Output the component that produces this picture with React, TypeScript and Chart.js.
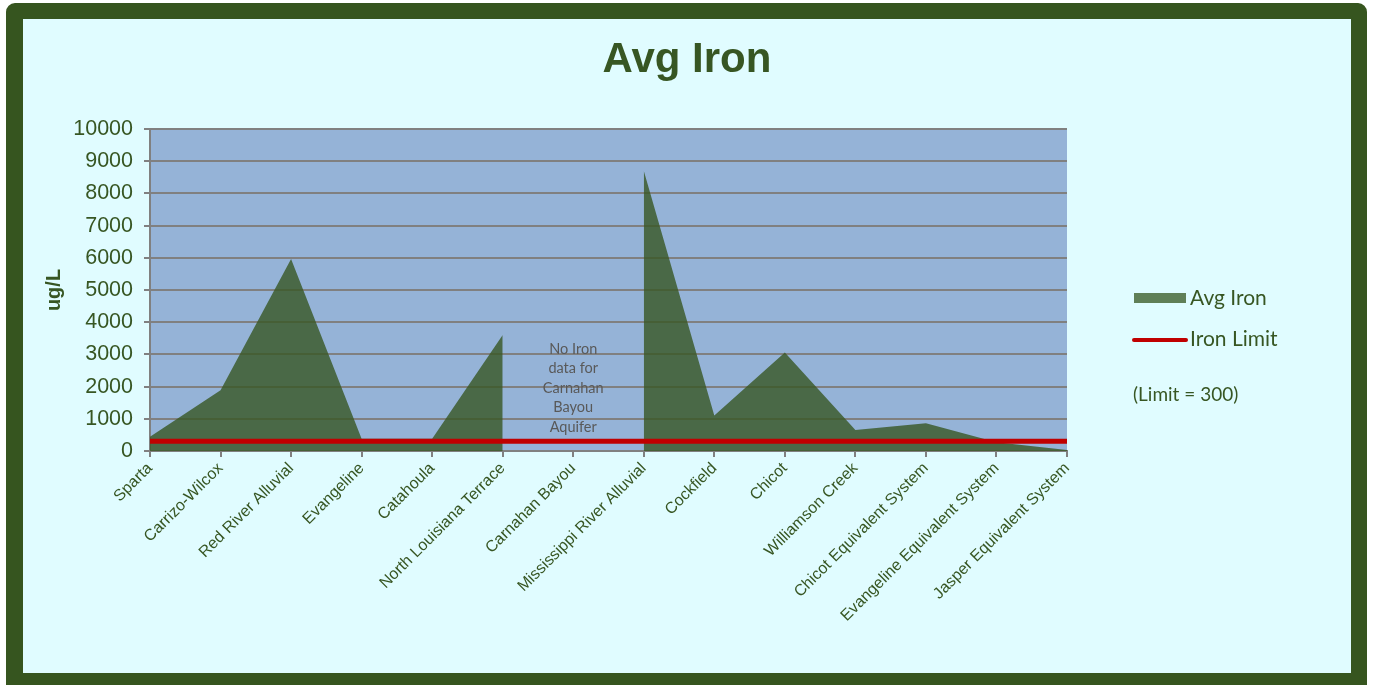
import React, { useEffect, useRef } from "react";
import { Chart, registerables } from "chart.js";

Chart.register(...registerables);

const categories = [
  "Sparta",
  "Carrizo-Wilcox",
  "Red River Alluvial",
  "Evangeline",
  "Catahoula",
  "North Louisiana Terrace",
  "Carnahan Bayou",
  "Mississippi River Alluvial",
  "Cockfield",
  "Chicot",
  "Williamson Creek",
  "Chicot Equivalent System",
  "Evangeline Equivalent System",
  "Jasper Equivalent System",
];

const avgIron: (number | null)[] = [440, 1890, 5960, 380, 380, 3600, null, 8700, 1100, 3060, 650, 860, 270, 30];
const ironLimit = [300, 300, 300, 300, 300, 300, 300, 300, 300, 300, 300, 300, 300, 300];

const yMin = 0;
const yMax = 10000;
const yStep = 1000;

const titleText = "Avg Iron";
const yAxisTitle = "ug/L";
const seriesNames = ["Avg Iron", "Iron Limit"];
const limitNote = "(Limit = 300)";
const noDataCategory = "Carnahan Bayou";
const noDataNote = ["No Iron", "data for", "Carnahan", "Bayou", "Aquifer"];

const GREEN = "#375623";

export default function App() {
  const canvasRef = useRef<HTMLCanvasElement | null>(null);

  useEffect(() => {
    const canvas = canvasRef.current;
    if (!canvas) return;

    const plotBg = {
      id: "plotBg",
      beforeDraw(chart: any) {
        const { ctx, chartArea } = chart;
        ctx.save();
        ctx.fillStyle = "#95b3d7";
        ctx.fillRect(chartArea.left, chartArea.top, chartArea.right - chartArea.left, chartArea.bottom - chartArea.top);
        ctx.restore();
      },
    };

    const note = {
      id: "noDataNote",
      afterDatasetsDraw(chart: any) {
        const { ctx } = chart;
        const xs = chart.scales.x;
        const ys = chart.scales.y;
        const idx = categories.indexOf(noDataCategory);
        const x = xs.getPixelForValue(idx);
        const yCenter = ys.getPixelForValue(1960);
        const lh = 19.5;
        ctx.save();
        ctx.fillStyle = "#595959";
        ctx.font = "14.5px Lato";
        ctx.textAlign = "center";
        ctx.textBaseline = "middle";
        noDataNote.forEach((t, i) => {
          ctx.fillText(t, x, yCenter + (i - (noDataNote.length - 1) / 2) * lh);
        });
        ctx.restore();
      },
    };

    const chart = new Chart(canvas, {
      type: "line",
      data: {
        labels: categories,
        datasets: [
          {
            label: seriesNames[0],
            data: avgIron,
            backgroundColor: "rgba(55,86,35,0.8)",
            borderWidth: 0,
            borderColor: "rgba(0,0,0,0)",
            fill: "origin",
            pointRadius: 0,
            tension: 0,
            spanGaps: false,
            order: 1,
          },
          {
            label: seriesNames[1],
            data: ironLimit,
            borderColor: "#c00000",
            borderWidth: 5,
            fill: false,
            pointRadius: 0,
            tension: 0,
            order: 0,
          },
        ],
      },
      options: {
        animation: false,
        responsive: false,
        devicePixelRatio: 1,
        layout: { padding: { left: 42, top: 129, right: 307, bottom: 34 } },
        plugins: {
          legend: { display: false },
          tooltip: { enabled: false },
          title: { display: false },
        },
        scales: {
          x: {
            type: "category",
            offset: false,
            grid: {
              display: true,
              drawOnChartArea: false,
              drawTicks: true,
              tickLength: 6,
              color: "#808080",
              lineWidth: 2,
            },
            border: { display: true, color: "#808080", width: 2 },
            ticks: {
              autoSkip: false,
              maxRotation: 45,
              minRotation: 45,
              padding: 2,
              color: GREEN,
              font: { family: "'Liberation Sans', Arial, sans-serif", size: 16 },
            },
            afterFit(scale: any) {
              scale.height = 200;
            },
          },
          y: {
            min: yMin,
            max: yMax,
            ticks: {
              stepSize: yStep,
              color: GREEN,
              padding: 11,
              font: { family: "'Liberation Sans', Arial, sans-serif", size: 21.5 },
              callback: (v: any) => String(v),
            },
            grid: {
              color: "#808080",
              lineWidth: 2,
              drawTicks: true,
              tickLength: 6,
            },
            border: { display: true, color: "#808080", width: 2 },
            title: {
              display: true,
              text: yAxisTitle,
              color: GREEN,
              padding: { top: 0, bottom: 0 },
              font: { family: "'Liberation Sans', Arial, sans-serif", size: 20, weight: "bold" },
            },
            afterFit(scale: any) {
              scale.width = 108;
            },
          },
        },
      },
      plugins: [plotBg, note],
    });

    return () => chart.destroy();
  }, []);

  return (
    <div style={{ position: "fixed", left: 0, top: 0, width: 1374, height: 685, overflow: "hidden", fontFamily: "Lato, sans-serif" }}>
      <div
        style={{
          position: "absolute",
          left: 6,
          top: 3,
          width: 1361,
          height: 700,
          boxSizing: "border-box",
          background: "#e0fcff",
          borderStyle: "solid",
          borderColor: "#36551f",
          borderWidth: "16px 16px 30px 17px",
          borderRadius: 9,
        }}
      />
      <div
        style={{
          position: "absolute",
          left: 0,
          width: 1374,
          top: 37,
          textAlign: "center",
          font: "bold 42px 'Liberation Sans', Arial, sans-serif",
          lineHeight: "42px",
          color: GREEN,
        }}
      >
        {titleText}
      </div>
      <canvas ref={canvasRef} width={1374} height={685} style={{ position: "absolute", left: 0, top: 0, width: 1374, height: 685 }} />
      <div style={{ position: "absolute", left: 1134, top: 293, width: 52, height: 10, background: "#5f7f57" }} />
      <div style={{ position: "absolute", left: 1190, top: 286, font: "21px Lato", lineHeight: "21px", color: GREEN, whiteSpace: "nowrap" }}>
        {seriesNames[0]}
      </div>
      <div style={{ position: "absolute", left: 1132, top: 338, width: 56, height: 4, borderRadius: 2, background: "#c00000" }} />
      <div style={{ position: "absolute", left: 1190, top: 327, font: "21px Lato", lineHeight: "21px", color: GREEN, whiteSpace: "nowrap" }}>
        {seriesNames[1]}
      </div>
      <div style={{ position: "absolute", left: 1133, top: 384, font: "19px Lato", lineHeight: "19px", color: GREEN, whiteSpace: "nowrap" }}>
        {limitNote}
      </div>
    </div>
  );
}
